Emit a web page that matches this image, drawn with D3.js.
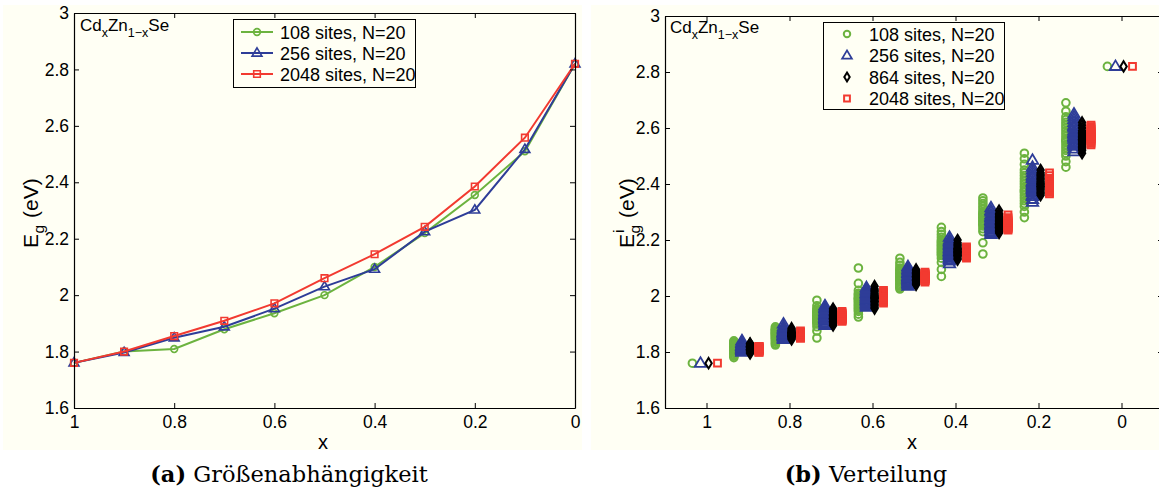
<!DOCTYPE html>
<html>
<head>
<meta charset="utf-8">
<script src="https://cdn.jsdelivr.net/npm/d3@7"></script>
<style>
  body { margin: 0; background: #fff; }
  svg { display: block; }
  text { font-family: "Liberation Sans", Arial, Helvetica, sans-serif; fill: #000; }
  .cap { font-family: "DejaVu Serif", "Liberation Serif", serif; }
</style>
</head>
<body>
<svg id="c" width="1159" height="493"></svg>
<script>
// Composition values x (Cd fraction)
const compositions = [1, 0.9, 0.8, 0.7, 0.6, 0.5, 0.4, 0.3, 0.2, 0.1, 0];
const xTickValues = [1, 0.8, 0.6, 0.4, 0.2, 0];
const yTickValues = [1.6, 1.8, 2, 2.2, 2.4, 2.6, 2.8, 3];

// (a) mean band gap per cell size
const meanGap108  = [1.76, 1.80, 1.809, 1.879, 1.936, 2.00, 2.10, 2.22, 2.355, 2.51, 2.82];
const meanGap256  = [1.76, 1.797, 1.849, 1.888, 1.952, 2.03, 2.092, 2.225, 2.302, 2.517, 2.82];
const meanGap2048 = [1.76, 1.80, 1.855, 1.909, 1.971, 2.06, 2.145, 2.242, 2.385, 2.558, 2.82];

// (b) band gaps of the 20 individual configurations
const gaps108 = [
  [1.76],
  [1.78,1.785,1.79,1.795,1.80,1.80,1.805,1.81,1.81,1.815,1.815,1.82,1.82,1.825,1.825,1.83,1.83,1.835,1.835,1.84],
  [1.825,1.83,1.835,1.84,1.845,1.85,1.85,1.855,1.86,1.86,1.865,1.865,1.87,1.87,1.875,1.875,1.88,1.88,1.885,1.89],
  [1.85,1.875,1.89,1.90,1.905,1.91,1.915,1.92,1.92,1.925,1.93,1.93,1.935,1.94,1.94,1.945,1.95,1.955,1.965,1.985],
  [1.925,1.935,1.945,1.95,1.955,1.96,1.965,1.97,1.975,1.98,1.985,1.99,1.99,1.995,2.00,2.005,2.01,2.02,2.045,2.10],
  [2.025,2.03,2.035,2.04,2.045,2.05,2.055,2.06,2.06,2.065,2.07,2.075,2.08,2.085,2.09,2.095,2.10,2.11,2.12,2.135],
  [2.07,2.095,2.12,2.135,2.145,2.15,2.155,2.16,2.165,2.17,2.175,2.18,2.185,2.19,2.195,2.20,2.21,2.22,2.23,2.245],
  [2.15,2.19,2.23,2.24,2.25,2.255,2.26,2.265,2.27,2.275,2.28,2.285,2.29,2.295,2.30,2.31,2.32,2.33,2.34,2.35],
  [2.28,2.30,2.32,2.33,2.34,2.35,2.36,2.37,2.375,2.38,2.39,2.40,2.41,2.42,2.43,2.44,2.45,2.47,2.49,2.51],
  [2.46,2.48,2.50,2.51,2.52,2.53,2.54,2.55,2.555,2.56,2.57,2.58,2.59,2.60,2.61,2.62,2.63,2.64,2.66,2.69],
  [2.82]
];
const gaps256 = [
  [1.76],
  [1.80,1.80,1.805,1.805,1.81,1.81,1.81,1.815,1.815,1.815,1.82,1.82,1.82,1.82,1.825,1.825,1.83,1.83,1.835,1.84],
  [1.845,1.85,1.85,1.855,1.855,1.86,1.86,1.86,1.865,1.865,1.865,1.87,1.87,1.87,1.875,1.875,1.88,1.885,1.89,1.90],
  [1.895,1.90,1.905,1.91,1.915,1.915,1.92,1.92,1.925,1.925,1.93,1.93,1.935,1.935,1.94,1.945,1.95,1.955,1.96,1.965],
  [1.96,1.965,1.97,1.975,1.975,1.98,1.985,1.985,1.99,1.99,1.995,2.00,2.00,2.005,2.01,2.01,2.015,2.02,2.025,2.03],
  [2.035,2.04,2.045,2.05,2.05,2.055,2.06,2.06,2.065,2.065,2.07,2.07,2.075,2.08,2.08,2.085,2.09,2.095,2.10,2.105],
  [2.115,2.125,2.13,2.135,2.14,2.145,2.15,2.15,2.155,2.16,2.16,2.165,2.17,2.175,2.18,2.185,2.19,2.195,2.20,2.21],
  [2.22,2.225,2.23,2.235,2.24,2.245,2.25,2.25,2.255,2.26,2.265,2.27,2.27,2.275,2.28,2.285,2.29,2.30,2.305,2.315],
  [2.335,2.345,2.355,2.36,2.37,2.375,2.38,2.385,2.39,2.395,2.40,2.405,2.41,2.42,2.425,2.43,2.44,2.45,2.46,2.485],
  [2.515,2.525,2.535,2.54,2.545,2.55,2.56,2.565,2.57,2.575,2.58,2.585,2.59,2.60,2.605,2.61,2.62,2.63,2.64,2.65],
  [2.82]
];
const gaps864 = [
  [1.76],
  [1.795,1.80,1.80,1.805,1.805,1.81,1.81,1.81,1.81,1.815,1.815,1.815,1.82,1.82,1.82,1.82,1.825,1.825,1.83,1.83],
  [1.845,1.85,1.85,1.855,1.855,1.855,1.86,1.86,1.86,1.86,1.865,1.865,1.865,1.87,1.87,1.87,1.875,1.875,1.88,1.885],
  [1.895,1.90,1.905,1.91,1.91,1.915,1.915,1.92,1.92,1.92,1.925,1.925,1.93,1.93,1.935,1.935,1.94,1.945,1.95,1.955],
  [1.955,1.96,1.965,1.97,1.975,1.98,1.98,1.985,1.99,1.99,1.995,1.995,2.00,2.00,2.005,2.01,2.015,2.02,2.025,2.035],
  [2.04,2.045,2.05,2.055,2.055,2.06,2.06,2.065,2.065,2.07,2.07,2.07,2.075,2.075,2.08,2.08,2.085,2.085,2.09,2.095],
  [2.13,2.135,2.14,2.145,2.145,2.15,2.15,2.155,2.155,2.16,2.16,2.165,2.165,2.17,2.17,2.175,2.18,2.185,2.19,2.20],
  [2.225,2.23,2.235,2.24,2.245,2.245,2.25,2.25,2.255,2.255,2.26,2.26,2.265,2.27,2.275,2.28,2.285,2.29,2.295,2.305],
  [2.36,2.365,2.37,2.375,2.38,2.385,2.39,2.39,2.395,2.40,2.40,2.405,2.41,2.415,2.42,2.425,2.43,2.435,2.44,2.45],
  [2.51,2.52,2.525,2.53,2.535,2.54,2.545,2.55,2.555,2.56,2.56,2.565,2.57,2.575,2.58,2.585,2.59,2.60,2.61,2.62],
  [2.82]
];
const gaps2048 = [
  [1.76],
  [1.80,1.80,1.805,1.805,1.805,1.81,1.81,1.81,1.81,1.81,1.81,1.815,1.815,1.815,1.815,1.82,1.82,1.82,1.80,1.815],
  [1.85,1.85,1.855,1.855,1.855,1.855,1.86,1.86,1.86,1.86,1.86,1.86,1.865,1.865,1.865,1.865,1.87,1.87,1.87,1.875],
  [1.91,1.91,1.915,1.915,1.915,1.92,1.92,1.92,1.92,1.925,1.925,1.925,1.93,1.93,1.93,1.935,1.935,1.94,1.94,1.945],
  [1.975,1.98,1.98,1.985,1.985,1.99,1.99,1.99,1.995,1.995,1.995,2.00,2.00,2.00,2.005,2.005,2.01,2.01,2.015,2.02],
  [2.05,2.055,2.055,2.06,2.06,2.06,2.065,2.065,2.065,2.065,2.07,2.07,2.07,2.07,2.075,2.075,2.075,2.08,2.08,2.085],
  [2.135,2.14,2.14,2.145,2.145,2.145,2.15,2.15,2.15,2.15,2.155,2.155,2.155,2.16,2.16,2.16,2.165,2.165,2.17,2.175],
  [2.235,2.24,2.24,2.245,2.245,2.25,2.25,2.25,2.255,2.255,2.255,2.26,2.26,2.26,2.265,2.265,2.27,2.275,2.28,2.29],
  [2.365,2.37,2.375,2.375,2.38,2.385,2.385,2.39,2.39,2.395,2.395,2.40,2.40,2.405,2.41,2.41,2.415,2.42,2.43,2.44],
  [2.54,2.545,2.55,2.555,2.56,2.56,2.565,2.565,2.57,2.57,2.575,2.575,2.58,2.58,2.585,2.59,2.595,2.60,2.605,2.61],
  [2.82]
];
// horizontal shift (in x units) so the four groups sit side by side
const groupShift = [0.034, 0.0145, -0.005, -0.0265];

const GREEN = "#6cb33f", BLUE = "#2e3d98", BLACK = "#000", RED = "#f23a30";
const CREAM = "#fffff4";
const TICK_FONT = 17.5, LEGEND_FONT = 18;

const svg = d3.select("#c");
svg.append("rect").attr("x", 3).attr("y", 5).attr("width", 579).attr("height", 445).attr("fill", CREAM);
svg.append("rect").attr("x", 591).attr("y", 5).attr("width", 568).attr("height", 445).attr("fill", CREAM);

const fmt = d => String(+(+d).toFixed(1));

function frame(x, y) {
  const g = svg.append("g");
  const [x0, x1] = x.range(), [y0, y1] = y.range();
  g.append("g").attr("transform", `translate(0,${y0})`)
    .call(d3.axisBottom(x).tickValues(xTickValues).tickFormat(fmt).tickSizeInner(-5).tickSizeOuter(0).tickPadding(8));
  g.append("g").attr("transform", `translate(0,${y1})`)
    .call(d3.axisTop(x).tickValues(xTickValues).tickFormat("").tickSizeInner(-5).tickSizeOuter(0));
  g.append("g").attr("transform", `translate(${x0},0)`)
    .call(d3.axisLeft(y).tickValues(yTickValues).tickFormat(fmt).tickSizeInner(-5).tickSizeOuter(0).tickPadding(5));
  g.append("g").attr("transform", `translate(${x1},0)`)
    .call(d3.axisRight(y).tickValues(yTickValues).tickFormat("").tickSizeInner(-5).tickSizeOuter(0));
  g.selectAll(".domain").attr("stroke", "#000").attr("stroke-width", 1.2);
  g.selectAll(".tick line").attr("stroke", "#000").attr("stroke-width", 1);
  g.selectAll("text").attr("font-family", "Liberation Sans, Arial, sans-serif").attr("font-size", TICK_FONT).attr("fill", "#000");
  return g;
}

// marker paths centred at 0,0
const markers = {
  circle: r => `M${r},0A${r},${r} 0 1,1 ${-r},0A${r},${r} 0 1,1 ${r},0Z`,
  triangle: s => `M0,${-s}L${s * 0.95},${s * 0.6}L${-s * 0.95},${s * 0.6}Z`,
  diamond: s => `M0,${-s * 1.3}L${s * 0.8},0L0,${s * 1.3}L${-s * 0.8},0Z`,
  square: s => `M${-s},${-s}H${s}V${s}H${-s}Z`
};

function drawCompound(x0, y0) {
  const t = svg.append("text").attr("x", x0).attr("y", y0).attr("font-size", 17);
  t.append("tspan").text("Cd");
  t.append("tspan").attr("dy", 6).attr("font-size", 12.5).text("x");
  t.append("tspan").attr("dy", -6).text("Zn");
  t.append("tspan").attr("dy", 6).attr("font-size", 12.5).text("1\u2212x");
  t.append("tspan").attr("dy", -6).text("Se");
}

// rotated "E (eV)" axis title with optional superscript
function energyTitle(cx, cy, sup) {
  const g = svg.append("g").attr("transform", `translate(${cx},${cy}) rotate(-90)`);
  const x0 = -38;
  g.append("text").attr("x", x0).attr("y", 0).attr("font-size", 21).text("E");
  g.append("text").attr("x", x0 + 14.5).attr("y", 6).attr("font-size", 15.5).text("g");
  if (sup) g.append("text").attr("x", x0 + 15).attr("y", -10).attr("font-size", 15.5).text(sup);
  g.append("text").attr("x", x0 + 30).attr("y", 0).attr("font-size", 21).text("(eV)");
}

// ---------- (a) ----------
const xa = d3.scaleLinear().domain([1, 0]).range([74, 575]);
const ya = d3.scaleLinear().domain([1.6, 3]).range([408, 13]);

const seriesA = [
  { name: "108 sites, N=20",  vals: meanGap108,  color: GREEN, mk: "circle",   size: 3.4 },
  { name: "256 sites, N=20",  vals: meanGap256,  color: BLUE,  mk: "triangle", size: 5.2 },
  { name: "2048 sites, N=20", vals: meanGap2048, color: RED,   mk: "square",   size: 3.3 }
];

const gA = svg.append("g");
const lineA = d3.line().x((d, i) => xa(compositions[i])).y(d => ya(d));
seriesA.forEach(s => {
  gA.append("path").attr("d", lineA(s.vals)).attr("fill", "none")
    .attr("stroke", s.color).attr("stroke-width", 2);
  gA.selectAll(null).data(s.vals).join("path")
    .attr("transform", (d, i) => `translate(${xa(compositions[i])},${ya(d)})`)
    .attr("d", markers[s.mk](s.size))
    .attr("fill", "none").attr("stroke", s.color).attr("stroke-width", 1.6);
});
frame(xa, ya);
drawCompound(80, 31);

// legend (a)
const legA = svg.append("g");
legA.append("rect").attr("x", 233.5).attr("y", 19.5).attr("width", 182).attr("height", 68)
  .attr("fill", CREAM).attr("stroke", "#000").attr("stroke-width", 1);
seriesA.forEach((s, i) => {
  const yy = 32 + i * 21;
  legA.append("line").attr("x1", 241).attr("x2", 273).attr("y1", yy).attr("y2", yy)
    .attr("stroke", s.color).attr("stroke-width", 2);
  legA.append("path").attr("transform", `translate(257,${yy})`).attr("d", markers[s.mk](s.size))
    .attr("fill", "none").attr("stroke", s.color).attr("stroke-width", 1.6);
  legA.append("text").attr("x", 280).attr("y", yy + 6.5).attr("font-size", LEGEND_FONT).text(s.name);
});

// axis titles (a)
svg.append("text").attr("x", 323).attr("y", 449).attr("text-anchor", "middle").attr("font-size", 20).text("x");
energyTitle(38, 210, null);

// ---------- (b) ----------
const xb = d3.scaleLinear().domain([1.1, -0.1]).range([665, 1163]);
const yb = d3.scaleLinear().domain([1.6, 3]).range([408, 16]);

const seriesB = [
  { name: "108 sites, N=20",  vals: gaps108,  color: GREEN, mk: "circle",   size: 3.8, sw: 2 },
  { name: "256 sites, N=20",  vals: gaps256,  color: BLUE,  mk: "triangle", size: 6,   sw: 1.8 },
  { name: "864 sites, N=20",  vals: gaps864,  color: BLACK, mk: "diamond",  size: 4,   sw: 2 },
  { name: "2048 sites, N=20", vals: gaps2048, color: RED,   mk: "square",   size: 3.4, sw: 2 }
];

const gB = svg.append("g");
seriesB.forEach((s, k) => {
  const pts = [];
  s.vals.forEach((arr, i) => arr.forEach(v => pts.push([compositions[i] + groupShift[k], v])));
  gB.selectAll(null).data(pts).join("path")
    .attr("transform", d => `translate(${xb(d[0])},${yb(d[1])})`)
    .attr("d", markers[s.mk](s.size))
    .attr("fill", "none").attr("stroke", s.color).attr("stroke-width", s.sw);
});
frame(xb, yb);
drawCompound(670, 33);

// legend (b)
const legB = svg.append("g");
legB.append("rect").attr("x", 823.5).attr("y", 22.5).attr("width", 181).attr("height", 87)
  .attr("fill", CREAM).attr("stroke", "#000").attr("stroke-width", 1);
seriesB.forEach((s, i) => {
  const yy = 34 + i * 21.5;
  legB.append("path").attr("transform", `translate(847,${yy})`).attr("d", markers[s.mk](s.size * 0.85))
    .attr("fill", "none").attr("stroke", s.color).attr("stroke-width", s.sw);
  legB.append("text").attr("x", 869).attr("y", yy + 6.5).attr("font-size", LEGEND_FONT).text(s.name);
});

// axis titles (b)
svg.append("text").attr("x", 912).attr("y", 449).attr("text-anchor", "middle").attr("font-size", 20).text("x");
energyTitle(634, 210, "i");

// ---------- captions ----------
function caption(cx, label, body) {
  const t = svg.append("text").attr("class", "cap").attr("x", cx).attr("y", 482)
    .attr("text-anchor", "middle").attr("font-size", 22.5);
  t.append("tspan").attr("font-weight", "bold").text(label);
  t.append("tspan").text(" " + body);
}
caption(289, "(a)", "Größenabhängigkeit");
caption(866, "(b)", "Verteilung");
</script>
</body>
</html>
